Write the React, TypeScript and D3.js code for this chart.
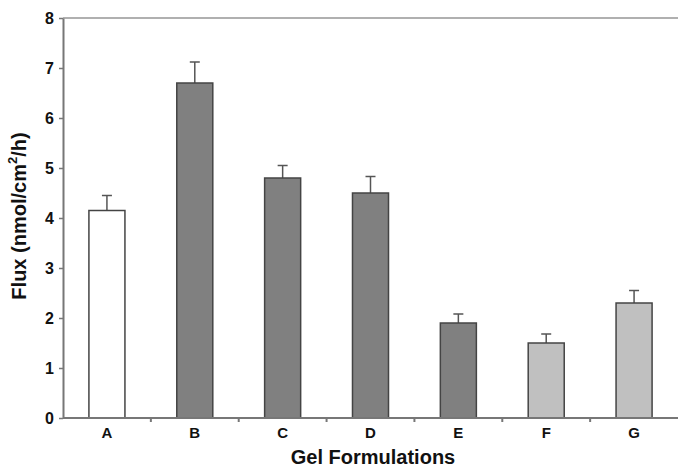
import React, { useRef, useEffect } from "react";
import * as d3 from "d3";

const categories = ["A", "B", "C", "D", "E", "F", "G"];
const fluxMeans = [4.15, 6.7, 4.8, 4.5, 1.9, 1.5, 2.3];
const fluxErrors = [0.3, 0.42, 0.25, 0.33, 0.18, 0.18, 0.25];
const barFills = ["#ffffff", "#808080", "#808080", "#808080", "#808080", "#c0c0c0", "#c0c0c0"];
const yTicks = [0, 1, 2, 3, 4, 5, 6, 7, 8];

const W = 678;
const H = 469;

const App = () => {
    const svgRef = useRef<SVGSVGElement>(null);

    useEffect(() => {
        const svg = d3.select(svgRef.current);
        svg.selectAll("*").remove();

        const margin = { top: 18, right: 0, bottom: 51, left: 63 };
        const font = "'Liberation Sans', Arial, sans-serif";

        const x = d3.scaleBand()
            .domain(categories)
            .range([margin.left, W - margin.right])
            .paddingInner(0.59)
            .paddingOuter(0.295);

        const y = d3.scaleLinear()
            .domain([0, 8])
            .range([H - margin.bottom, margin.top]);

        svg.append("rect").attr("width", W).attr("height", H).attr("fill", "#fff");

        // top frame line
        svg.append("line")
            .attr("x1", margin.left).attr("x2", W)
            .attr("y1", y(8)).attr("y2", y(8))
            .attr("stroke", "#b0b0b0").attr("stroke-width", 2);

        const data = categories.map((c, i) => ({ c, v: fluxMeans[i], e: fluxErrors[i], f: barFills[i] }));

        // error bars
        const err = svg.append("g").attr("stroke", "#555").attr("stroke-width", 1.5);
        data.forEach(d => {
            const cx = x(d.c)! + x.bandwidth() / 2;
            err.append("line").attr("x1", cx).attr("x2", cx).attr("y1", y(d.v)).attr("y2", y(d.v + d.e));
            err.append("line").attr("x1", cx - 5).attr("x2", cx + 5).attr("y1", y(d.v + d.e)).attr("y2", y(d.v + d.e));
        });

        svg.selectAll(".bar")
            .data(data)
            .enter()
            .append("rect")
            .attr("class", "bar")
            .attr("x", d => x(d.c)!)
            .attr("y", d => y(d.v))
            .attr("width", x.bandwidth())
            .attr("height", d => y(0) - y(d.v))
            .attr("fill", d => d.f)
            .attr("stroke", "#444")
            .attr("stroke-width", 1.5);

        // y axis
        const yAxis = svg.append("g")
            .attr("transform", `translate(${margin.left},0)`)
            .call(d3.axisLeft(y).tickValues(yTicks).tickSize(4).tickSizeOuter(0).tickPadding(5));
        yAxis.selectAll("text")
            .attr("fill", "#111")
            .style("font-family", font)
            .style("font-size", "16px")
            .style("font-weight", "bold");

        // x axis, ticks sit between categories
        const xAxis = svg.append("g").attr("transform", `translate(0,${y(0)})`);
        xAxis.append("line")
            .attr("x1", margin.left).attr("x2", W)
            .attr("y1", 0).attr("y2", 0);
        const step = x.step();
        categories.slice(0, -1).forEach((c, i) => {
            const bx = margin.left + step * (i + 1);
            xAxis.append("line").attr("x1", bx).attr("x2", bx).attr("y1", 0).attr("y2", 4);
        });
        xAxis.selectAll("line").attr("stroke", "#777").attr("stroke-width", 2);
        xAxis.selectAll(".lbl")
            .data(categories)
            .enter()
            .append("text")
            .attr("class", "lbl")
            .attr("x", d => x(d)! + x.bandwidth() / 2)
            .attr("y", 16)
            .attr("text-anchor", "middle")
            .attr("dominant-baseline", "middle")
            .style("font-family", font)
            .style("font-size", "15px")
            .style("font-weight", "bold")
            .attr("fill", "#111")
            .text(d => d);

        svg.selectAll(".domain").attr("stroke", "#777").attr("stroke-width", 2);
        svg.selectAll(".tick line").attr("stroke", "#777").attr("stroke-width", 1.5);

        // axis titles
        svg.append("text")
            .attr("x", 373)
            .attr("y", 459)
            .attr("text-anchor", "middle")
            .attr("dominant-baseline", "middle")
            .style("font-family", font)
            .style("font-size", "20px")
            .style("font-weight", "bold")
            .attr("fill", "#111")
            .text("Gel Formulations");

        const yt = svg.append("text")
            .attr("transform", `translate(21,216) rotate(-90)`)
            .attr("text-anchor", "middle")
            .attr("dominant-baseline", "middle")
            .style("font-family", font)
            .style("font-size", "20px")
            .style("font-weight", "bold")
            .attr("fill", "#111");
        yt.append("tspan").text("Flux (nmol/cm");
        yt.append("tspan").attr("dy", -7).style("font-size", "13px").text("2");
        yt.append("tspan").attr("dy", 7).text("/h)");
    }, []);

    return (
        <div style={{ position: "absolute", left: 0, top: 0 }}>
            <svg ref={svgRef} width={W} height={H} style={{ display: "block" }}></svg>
        </div>
    );
};

export default App;
